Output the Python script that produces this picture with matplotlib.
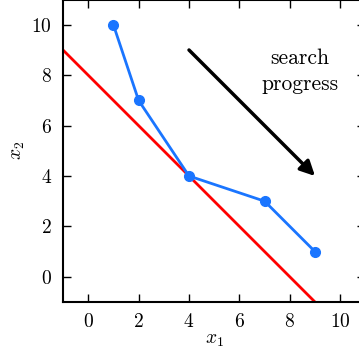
import matplotlib
matplotlib.use('Agg')
import matplotlib.pyplot as plt

plt.rcParams['font.family'] = 'serif'
plt.rcParams['font.serif'] = ['cmr10', 'DejaVu Serif']
plt.rcParams['mathtext.fontset'] = 'cm'
plt.rcParams['axes.formatter.use_mathtext'] = True

# search path and constraint line x1 + x2 = 8
path_x = [1, 2, 4, 7, 9]
path_y = [10, 7, 4, 3, 1]
line_x = [-1, 9]
line_y = [9, -1]
arrow_start = (4, 9)
arrow_end = (9, 4)
ticks = [0, 2, 4, 6, 8, 10]

fig = plt.figure(figsize=(3.59, 3.54), dpi=100)
ax = fig.add_axes([63 / 359, 52 / 354, 302.4 / 359, 302.4 / 354])

ax.plot(line_x, line_y, color='#ff0000', lw=2)
ax.plot(path_x, path_y, color='#1a75ff', lw=2, marker='o', ms=7)
ax.annotate('', xy=arrow_end, xytext=arrow_start,
            arrowprops=dict(arrowstyle='-|>', color='black', lw=2.5,
                            mutation_scale=22, shrinkA=0, shrinkB=0))
ax.text(8.4, 8.15, 'search\nprogress', ha='center', va='center',
        fontsize=15.5, linespacing=1.45)

ax.set_xlim(-1, 11)
ax.set_ylim(-1, 11)
ax.set_xticks(ticks)
ax.set_yticks(ticks)
ax.tick_params(direction='in', length=6, width=1, labelsize=14,
               top=True, right=True, pad=8)
for s in ax.spines.values():
    s.set_linewidth(1.5)
ax.set_xlabel('$x_1$', fontsize=14, labelpad=0)
ax.set_ylabel('$x_2$', fontsize=14, labelpad=3)

fig.savefig('out.png', dpi=100)
